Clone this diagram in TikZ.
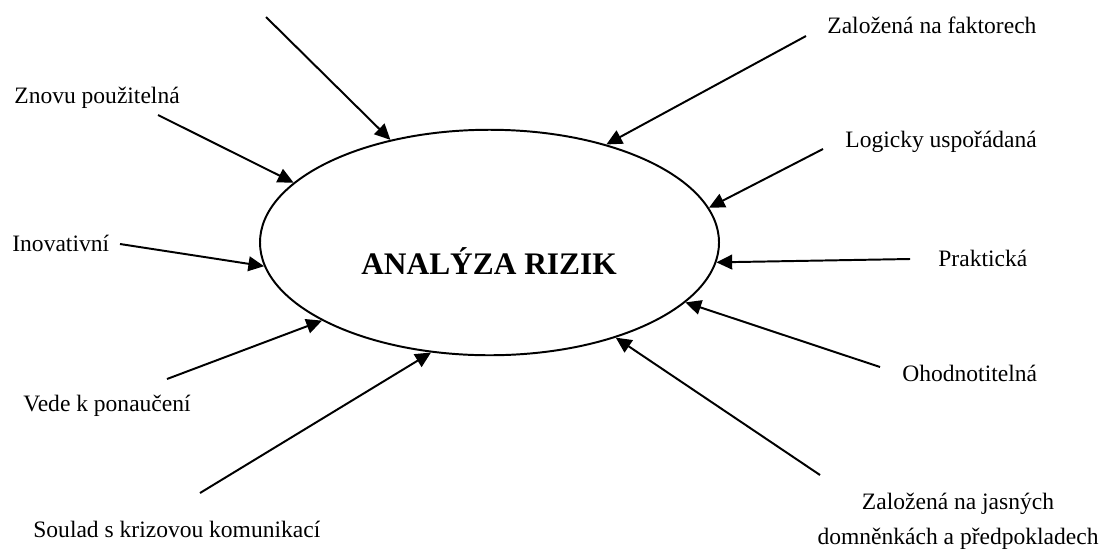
\documentclass[tikz,border=0pt]{standalone}
\usepackage{fontspec}
\setmainfont{Liberation Serif}
\usetikzlibrary{shapes.geometric,arrows.meta}
\begin{document}
\begin{tikzpicture}[x=0.51pt,y=-0.51pt,
  lbl/.style={inner sep=0pt, anchor=base west, font=\fontsize{12}{14}\selectfont},
  lblc/.style={inner sep=0pt, anchor=base, font=\fontsize{12}{14}\selectfont},
  feed/.style={-{Triangle[length=8pt,width=7.5pt]}, line width=1pt},
  core/.style={ellipse, draw, line width=1pt, minimum width=234.1pt,
    minimum height=115pt, inner sep=0pt}]
\useasboundingbox (0,0) rectangle (1107,556);

% central ellipse and its title
\node[core] (ell) at (489.5,242.5) {};
\node[inner sep=0pt, anchor=base, font=\bfseries\fontsize{16}{19}\selectfont]
  (title) at (489,274) {ANALÝZA RIZIK};

% surrounding properties
\node[lbl] (l2) at (827,33) {Založená na faktorech};
\node[lbl] (l3) at (14,103) {Znovu použitelná};
\node[lbl] (l4) at (845,147) {Logicky uspořádaná};
\node[lbl] (l5) at (12,251) {Inovativní};
\node[lbl] (l6) at (938,266) {Praktická};
\node[lbl] (l8) at (902,381) {Ohodnotitelná};
\node[lbl] (l7) at (23,411) {Vede k ponaučení};
\node[lblc] (l10a) at (958,509) {Založená na jasných};
\node[lblc] (l10b) at (958,544) {domněnkách a předpokladech};
\node[lbl] (l9) at (33,537) {Soulad s krizovou komunikací};

% free ends of the arrows
\coordinate (s1) at (266,17);
\coordinate (s2) at (806,36);
\coordinate (s3) at (158,115);
\coordinate (s4) at (823,149);
\coordinate (s5) at (120,244);
\coordinate (s6) at (910,259);
\coordinate (s7) at (167,379);
\coordinate (s8) at (880,367);
\coordinate (s9) at (200,493);
\coordinate (s10) at (820,475);

% arrows pointing at the ellipse
\draw[feed] (s1) -- (ell.134.7);
\draw[feed] (s2) -- (ell.40.3);
\draw[feed] (s3) -- (ell.163.8);
\draw[feed] (s4) -- (ell.9.8);
\draw[feed] (s5) -- (ell.186.2);
\draw[feed] (s6) -- (ell.355.8);
\draw[feed] (s7) -- (ell.205.3);
\draw[feed] (s8) -- (ell.343.8);
\draw[feed] (s9) -- (ell.242.1);
\draw[feed] (s10) -- (ell.323.2);
\end{tikzpicture}
\end{document}
